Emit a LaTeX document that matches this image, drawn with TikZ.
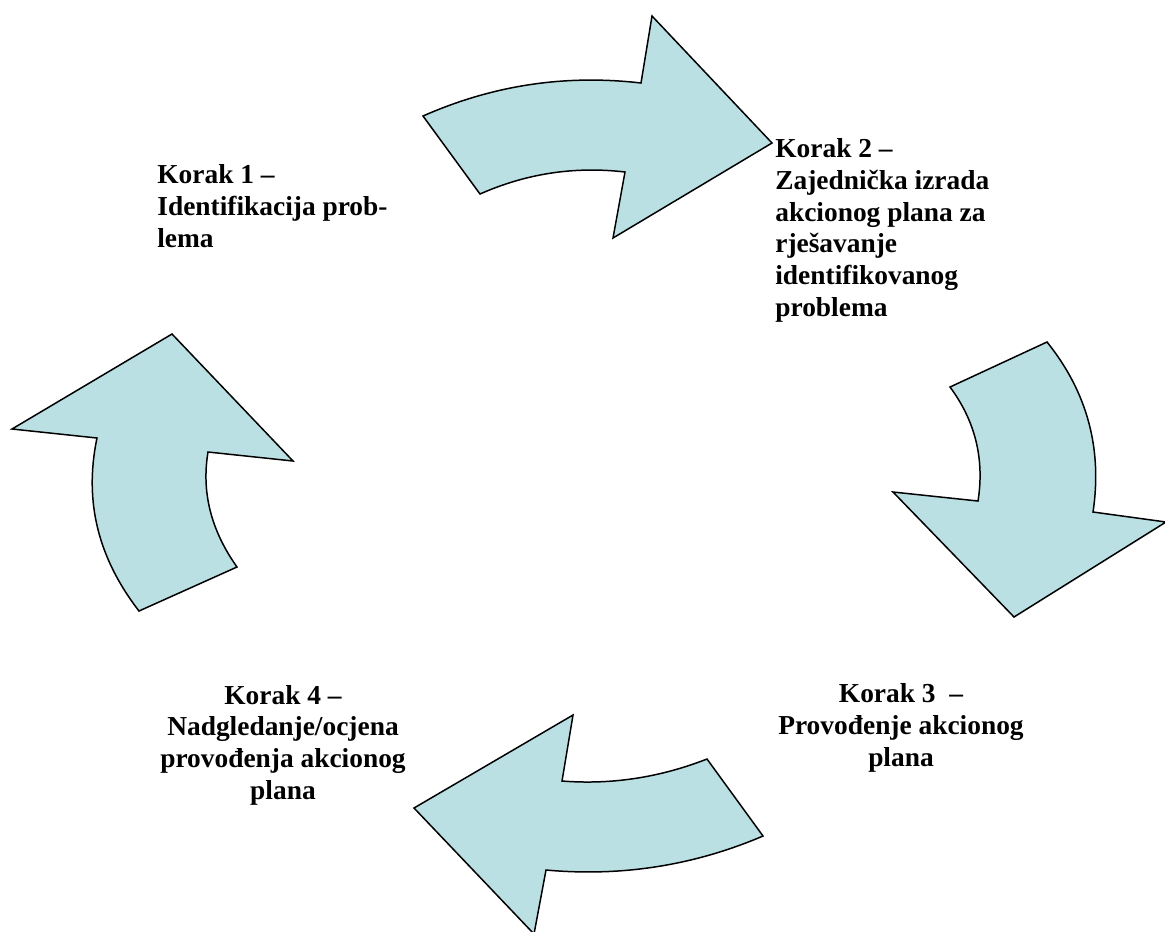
\documentclass[tikz,border=0pt]{standalone}
\usepackage{fontspec}
\setmainfont{Liberation Serif}
\usepackage{tikz}
\usetikzlibrary{arrows.meta}
\definecolor{arrowfill}{RGB}{186,224,228}

\begin{document}
\begin{tikzpicture}[x=0.02cm, y=-0.02cm,
    blockarrow/.style={draw=black, fill=arrowfill, line width=0.85pt, line join=miter},
    kstep/.style={font=\bfseries\fontsize{15.6}{18}\selectfont, inner sep=0pt}]

    \clip (0,0) rectangle (1165,931);

    \draw[blockarrow] (423,116) .. controls (492.7,85.2) and (565.3,74.2) .. (641,83) -- (652,16) -- (772,143)
        -- (613,238) -- (625,172) .. controls (574.7,166.1) and (526.3,173.5) .. (480,194) -- cycle;
    \draw[blockarrow] (1047,342) .. controls (1087.1,391.9) and (1102.5,448.6) .. (1093,512) -- (1166,522) -- (1014,617)
        -- (893,492) -- (978,501) .. controls (984.6,459.1) and (975.3,421.1) .. (950,387) -- cycle;
    \draw[blockarrow] (763,836) .. controls (693.3,865.8) and (620.7,876.8) .. (546,870) -- (534,934) -- (414,808)
        -- (573,715) -- (562,781) .. controls (611.3,784.9) and (659.7,777.5) .. (707,759) -- cycle;
    \draw[blockarrow] (139,611) .. controls (98.9,559.1) and (83.5,502.4) .. (97,438) -- (12,429) -- (172,334)
        -- (293,461) -- (208,452) .. controls (201.4,491.9) and (210.7,529.9) .. (237,567) -- cycle;

    \node[kstep, anchor=base west, align=left] (korak1) at (157,247)
        {Korak 1 –\\Identifikacija prob-\\lema};
    \node[kstep, anchor=base west, align=left] (korak2) at (775,316)
        {Korak 2 –\\Zajednička izrada\\akcionog plana za\\rješavanje\\identifikovanog\\problema};
    \node[kstep, anchor=base, align=center] (korak3) at (901,766)
        {Korak 3\ \ –\\Provođenje akcionog\\plana};
    \node[kstep, anchor=base, align=center] (korak4) at (283,799)
        {Korak 4 –\\Nadgledanje/ocjena\\provođenja akcionog\\plana};

\end{tikzpicture}
\end{document}
